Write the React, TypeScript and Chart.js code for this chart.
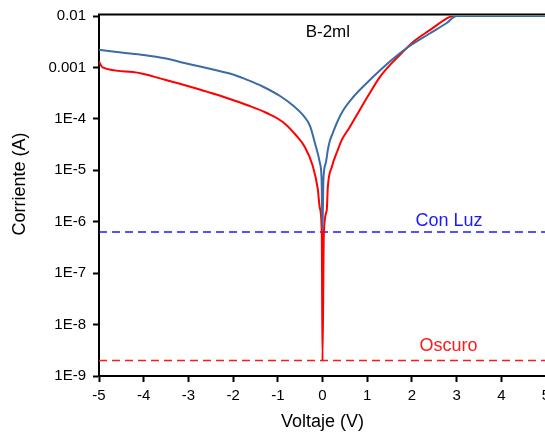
import React, { useEffect, useRef } from "react";
import { Chart, registerables } from "chart.js";

Chart.register(...registerables);

// ---- data ----
const blueVoltage = [-5.0, -4.5, -4.0, -3.5, -3.19, -2.74, -2.4, -2.0, -1.7, -1.34, -0.95, -0.66, -0.44, -0.28, -0.17, -0.06, -0.02, 0.0, 0.02, 0.074, 0.119, 0.163, 0.231, 0.32, 0.454, 0.678, 0.991, 1.282, 1.573, 1.886, 2.4, 2.78, 3.0, 5.0];
const blueCurrent = [2.2e-3, 1.95e-3, 1.75e-3, 1.49e-3, 1.28e-3, 1.04e-3, 8.9e-4, 7.3e-4, 5.8e-4, 4.26e-4, 2.78e-4, 1.82e-4, 1.19e-4, 7.3e-5, 3.4e-5, 1.4e-5, 6.5e-6, 7e-7, 6.5e-6, 1.39e-5, 2.48e-5, 3.71e-5, 5.31e-5, 8.3e-5, 1.42e-4, 2.6e-4, 4.98e-4, 8.7e-4, 1.46e-3, 2.39e-3, 4.57e-3, 7.3e-3, 1e-2, 1e-2];

const redVoltage = [-5.0, -4.92, -4.244, -3.505, -2.745, -2.454, -2.074, -1.694, -1.246, -0.888, -0.597, -0.396, -0.217, -0.105, -0.06, -0.016, 0.0, 0.03, 0.096, 0.119, 0.208, 0.342, 0.432, 0.611, 0.834, 1.058, 1.282, 1.506, 1.729, 2.02, 2.4, 2.85, 2.96, 5.0];
const redCurrent = [1.3e-3, 1.0e-3, 8.15e-4, 5.7e-4, 3.73e-4, 3.11e-4, 2.43e-4, 1.86e-4, 1.3e-4, 8.7e-5, 4.85e-5, 2.84e-5, 1.21e-5, 4.3e-6, 1.85e-6, 6e-7, 2e-9, 6e-7, 1.7e-6, 4.7e-6, 1.16e-5, 2.48e-5, 3.9e-5, 6.95e-5, 1.49e-4, 3.18e-4, 6.5e-4, 1.11e-3, 1.74e-3, 3.1e-3, 5.3e-3, 9.6e-3, 1e-2, 1e-2];

const conLuzLevel = 6.3e-7;
const oscuroLevel = 2.0e-9;
const refLineVoltage = [-5, 5];

const xTickValues = [-5, -4, -3, -2, -1, 0, 1, 2, 3, 4, 5];
const yTickValues = [1e-9, 1e-8, 1e-7, 1e-6, 1e-5, 1e-4, 1e-3, 1e-2];
const yTickLabels = ["1E-9", "1E-8", "1E-7", "1E-6", "1E-5", "1E-4", "0.001", "0.01"];

const titleText = "B-2ml";
const xTitle = "Voltaje (V)";
const yTitle = "Corriente (A)";
const conLuzLabel = "Con Luz";
const oscuroLabel = "Oscuro";

const FONT = "'Liberation Sans', Arial, sans-serif";

const pairs = (xs: number[], ys: number[]) => xs.map((x, i) => ({ x, y: ys[i] }));

export default function App() {
  const ref = useRef<HTMLCanvasElement | null>(null);

  useEffect(() => {
    if (!ref.current) return;
    Chart.defaults.color = "#000";

    const overlay = {
      id: "overlay",
      beforeDatasetsDraw(chart: any) {
        const { ctx, chartArea } = chart;
        ctx.save();
        ctx.strokeStyle = "#000";
        ctx.lineWidth = 2;
        ctx.beginPath();
        ctx.moveTo(chartArea.left - 1, chartArea.top - 1.5);
        ctx.lineTo(chartArea.right + 2, chartArea.top - 1.5);
        ctx.moveTo(chartArea.left, chartArea.top - 2.5);
        ctx.lineTo(chartArea.left, chartArea.top + 1);
        ctx.stroke();
        ctx.restore();
      },
      afterDatasetsDraw(chart: any) {
        const { ctx, chartArea, scales } = chart;
        ctx.save();
        ctx.fillStyle = "#000";
        ctx.font = `17px ${FONT}`;
        ctx.textAlign = "center";
        ctx.textBaseline = "middle";
        ctx.fillText(titleText, scales.x.getPixelForValue(0.12), 32);
        ctx.font = `18px ${FONT}`;
        ctx.fillStyle = "#1a1aff";
        ctx.fillText(conLuzLabel, scales.x.getPixelForValue(2.83), scales.y.getPixelForValue(conLuzLevel) - 11);
        ctx.fillStyle = "#ff1a1a";
        ctx.fillText(oscuroLabel, scales.x.getPixelForValue(2.82), scales.y.getPixelForValue(oscuroLevel) - 14);
        ctx.fillStyle = "#000";
        ctx.fillText(xTitle, (chartArea.left + chartArea.right) / 2, 422);
        ctx.translate(20, 184);
        ctx.rotate(-Math.PI / 2);
        ctx.fillText(yTitle, 0, 0);
        ctx.restore();
      },
    };

    const chart = new Chart(ref.current, {
      type: "line",
      data: {
        datasets: [
          {
            label: "Con Luz",
            data: pairs(blueVoltage, blueCurrent),
            borderColor: "#3a6ca5",
            borderWidth: 2,
            pointRadius: 0,
            cubicInterpolationMode: "monotone",
          },
          {
            label: "Oscuro",
            data: pairs(redVoltage, redCurrent),
            borderColor: "#ff0000",
            borderWidth: 2,
            pointRadius: 0,
            cubicInterpolationMode: "monotone",
          },
          {
            label: "Con Luz ref",
            data: pairs(refLineVoltage, [conLuzLevel, conLuzLevel]),
            borderColor: "#1a1aff",
            borderWidth: 1.6,
            borderDash: [8, 5],
            pointRadius: 0,
          },
          {
            label: "Oscuro ref",
            data: pairs(refLineVoltage, [oscuroLevel, oscuroLevel]),
            borderColor: "#ff1a1a",
            borderWidth: 1.6,
            borderDash: [8, 5],
            pointRadius: 0,
          },
        ],
      },
      options: {
        responsive: false,
        animation: false,
        devicePixelRatio: 1,
        layout: { padding: { left: 0, top: 16, right: 14, bottom: 0 } },
        plugins: { legend: { display: false }, tooltip: { enabled: false } },
        scales: {
          x: {
            type: "linear",
            min: -5,
            max: 5,
            afterBuildTicks: (scale: any) => {
              scale.ticks = xTickValues.map((v) => ({ value: v }));
            },
            afterFit: (scale: any) => {
              scale.height = 58;
            },
            ticks: {
              font: { family: FONT, size: 15 },
              color: "#000",
              padding: 5,
              maxRotation: 0,
              autoSkip: false,
              callback: (v: any) => String(v),
            },
            grid: { drawOnChartArea: false, drawTicks: true, tickLength: 6, tickColor: "#000", tickWidth: 2 },
            border: { color: "#000", width: 2 },
          },
          y: {
            type: "logarithmic",
            min: 1e-9,
            max: 1e-2,
            afterBuildTicks: (scale: any) => {
              scale.ticks = yTickValues.map((v) => ({ value: v }));
            },
            afterFit: (scale: any) => {
              scale.width = 99;
            },
            ticks: {
              font: { family: FONT, size: 15 },
              color: "#000",
              padding: 7,
              autoSkip: false,
              callback: (_v: any, i: number) => yTickLabels[i],
            },
            grid: { drawOnChartArea: false, drawTicks: true, tickLength: 6, tickColor: "#000", tickWidth: 2 },
            border: { color: "#000", width: 2 },
          },
        },
      },
      plugins: [overlay],
    } as any);
    return () => chart.destroy();
  }, []);

  return (
    <div style={{ position: "fixed", left: 0, top: 0, width: 545, height: 434, overflow: "hidden", background: "#fff" }}>
      <canvas ref={ref} width={560} height={434} style={{ display: "block", width: 560, height: 434 }} />
    </div>
  );
}
